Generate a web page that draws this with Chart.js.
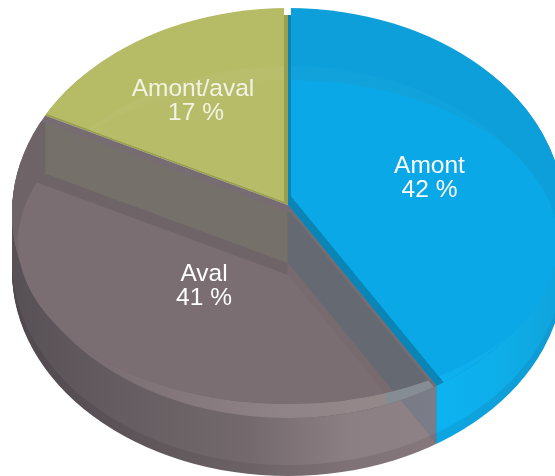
<!DOCTYPE html>
<html lang="fr">
    <head>
        <meta charset="UTF-8" />
        <title>Amont / aval</title>
        <script src="https://cdn.jsdelivr.net/npm/chart.js@4"></script>
        <style>
            html, body { margin: 0; padding: 0; background: #fff; overflow: hidden; }
        </style>
    </head>
    <body>
      <canvas id="chart1" width="555" height="476"></canvas>
      <script>
        const categories = ['Amont', 'Aval', 'Amont/aval'];
        const shares = [42, 41, 17];
        const shareLabels = ['42 %', '41 %', '17 %'];

        // picture geometry: tilted disc, its lower copy and the inner floor
        const top_ = { x: 288, y: 213, rx: 276, ry: 205 };
        const low = { x: 288, y: 271, rx: 276, ry: 205 };
        const floor_ = { x: 288, y: 242, rx: 270, ry: 162 };
        const apexY = 205;
        const depth = 58;
        const tilt = 0.67; // slope of the wedge edges
        const labelAt = [[429.5, 166.5], [204, 274.5], [193, 89.5]];

        function drawWedge(ctx, arc, ax, ay, paint) {
          const R = arc.outerRadius;
          const sx = 2 * top_.rx / R;
          const sy = sx * tilt;
          ctx.save();
          ctx.translate(ax, ay);
          ctx.scale(sx, sy);
          ctx.translate(-arc.x, -arc.y);
          let fill = paint;
          if (typeof paint !== 'string') {
            //gradient has to be built in the arc's own space
            const a = paint.stops[0][0];
            const b = paint.stops[paint.stops.length - 1][0];
            fill = paint.axis === 'x'
              ? ctx.createLinearGradient(arc.x + (a - ax) / sx, 0, arc.x + (b - ax) / sx, 0)
              : ctx.createLinearGradient(0, arc.y + (a - ay) / sy, 0, arc.y + (b - ay) / sy);
            paint.stops.forEach(s => fill.addColorStop((s[0] - a) / (b - a), s[1]));
          }
          const saved = arc.options;
          arc.options = { backgroundColor: fill, borderColor: 'transparent', borderWidth: 0,
            borderAlign: 'center', borderRadius: 0, offset: 0, spacing: 0, circular: true,
            borderJoinStyle: 'round', borderDash: [], borderDashOffset: 0 };
          arc.draw(ctx);
          arc.options = saved;
          ctx.restore();
        }

        function clipEllipse(ctx, e, dy, grow) {
          ctx.beginPath();
          ctx.ellipse(e.x, e.y + (dy || 0), e.rx + (grow || 0), e.ry, 0, 0, Math.PI * 2);
          ctx.clip();
        }

        function clipOutside(ctx, e) {
          ctx.beginPath();
          ctx.rect(0, 0, 555, 476);
          ctx.ellipse(e.x, e.y, e.rx, e.ry, 0, 0, Math.PI * 2);
          ctx.clip('evenodd');
        }

        function layer(ctx, arc, ax, ay, paint, clips) {
          ctx.save();
          clips.forEach(c => c());
          drawWedge(ctx, arc, ax, ay, paint);
          ctx.restore();
        }

        const discPlugin = {
          id: 'disc',
          beforeDatasetsDraw(chart) {
            const ctx = chart.ctx;
            const arcs = chart.getDatasetMeta(0).data;
            const blue = arcs[0], grey = arcs[1], olive = arcs[2];
            const cTop = () => clipEllipse(ctx, top_);
            const cLow = () => clipEllipse(ctx, low);
            const cFloor = () => clipEllipse(ctx, floor_);
            const cOut = () => clipOutside(ctx, floor_);
            const cNotch = () => clipEllipse(ctx, top_, 7, 12);

            // walls, only the front part shows
            const blueWall = { axis: 'x', stops: [[437, '#0cb3f0'], [500, '#0eaee9'], [560, '#10a3dc']] };
            const blueEdge = { axis: 'x', stops: [[437, '#0ca6e2'], [560, '#109ad1']] };
            const greyWall = { axis: 'x', stops: [[12, '#575054'], [100, '#625a5e'], [250, '#746a6e'], [350, '#8c7f83'], [437, '#8f8286']] };
            const greyEdge = { axis: 'x', stops: [[12, '#4f484c'], [100, '#595155'], [250, '#6c6266'], [350, '#7f7276'], [437, '#85777b']] };
            ctx.save();
            ctx.beginPath();
            ctx.rect(0, 200, 555, 276);
            ctx.clip();
            [[blue, blueWall, blueEdge], [grey, greyWall, greyEdge]].forEach(w => {
              for (let o = depth; o >= 1; o--) {
                layer(ctx, w[0], top_.x, apexY + o, o > depth - 11 ? w[2] : w[1], [() => clipEllipse(ctx, top_, o)]);
              }
            });
            // blue seen through the grey wall
            ctx.beginPath();
            ctx.rect(0, 200, 437, 276);
            ctx.clip();
            layer(ctx, blue, top_.x, apexY + depth, 'rgba(70, 110, 140, 0.28)', [cLow]);
            ctx.restore();

            // blue slice
            layer(ctx, blue, top_.x, apexY, '#0a85b6', [cTop, cNotch]);
            layer(ctx, blue, 291, 196, '#0c9fda', [cTop]);
            layer(ctx, blue, 291, 196, { axis: 'y', stops: [[66, '#11a2db'], [250, '#0fa4df'], [390, '#0eb1ef']] }, [cTop, cLow]);
            layer(ctx, blue, 291, 196, '#0aa8e6', [cFloor]);

            // olive slice
            layer(ctx, olive, top_.x, apexY, '#98a04e', [cTop, cNotch]);
            layer(ctx, olive, 284, 201.5, '#b6bb66', [cTop]);
            layer(ctx, olive, 284, 201.5, '#b9be6c', [cTop, cLow]);
            layer(ctx, olive, 284, 201.5, '#b6bc68', [cFloor]);

            // grey slice, with the walls seen through it
            layer(ctx, grey, top_.x, apexY, '#766c71', [cTop]);
            layer(ctx, grey, 291, 213, { axis: 'x', stops: [[12, '#6e6468'], [45, '#6e6468'], [46, '#75706a'], [287, '#75706a'], [288, '#656a72'], [440, '#656a72']] }, [cTop]);
            layer(ctx, grey, top_.x, apexY + 58, { axis: 'x', stops: [[12, '#6e6468'], [287, '#6f6569'], [288, '#786b70'], [440, '#786b70']] }, [cTop]);
            layer(ctx, grey, 291, 213, { axis: 'x', stops: [[12, '#716769'], [120, '#7d7075'], [280, '#908387'], [385, '#95888b'], [386, '#868c94'], [440, '#868c94']] }, [cTop, cLow, cOut]);
            layer(ctx, grey, top_.x, apexY + 70, '#7b6e73', [cFloor]);

            return false;
          },
          afterDraw(chart) {
            const ctx = chart.ctx;
            ctx.save();
            ctx.fillStyle = '#ffffff';
            ctx.font = '24.5px "Liberation Sans", Arial, sans-serif';
            ctx.textAlign = 'center';
            ctx.textBaseline = 'middle';
            categories.forEach((name, i) => {
              ctx.globalAlpha = i === 2 ? 0.82 : 1;
              ctx.fillText(name, labelAt[i][0], labelAt[i][1]);
              ctx.fillText(shareLabels[i], labelAt[i][0] + (i === 2 ? 3 : 0), labelAt[i][1] + 24);
            });
            ctx.restore();
          }
        };

        new Chart(document.getElementById('chart1'), {
          type: 'pie',
          data: {
            labels: categories,
            datasets: [{ data: shares, backgroundColor: ['#0aa8e6', '#7b6e73', '#b6bc68'], borderWidth: 0 }]
          },
          options: {
            responsive: false,
            animation: false,
            plugins: { legend: { display: false }, tooltip: { enabled: false } }
          },
          plugins: [discPlugin]
        });
      </script>
    </body>
</html>
